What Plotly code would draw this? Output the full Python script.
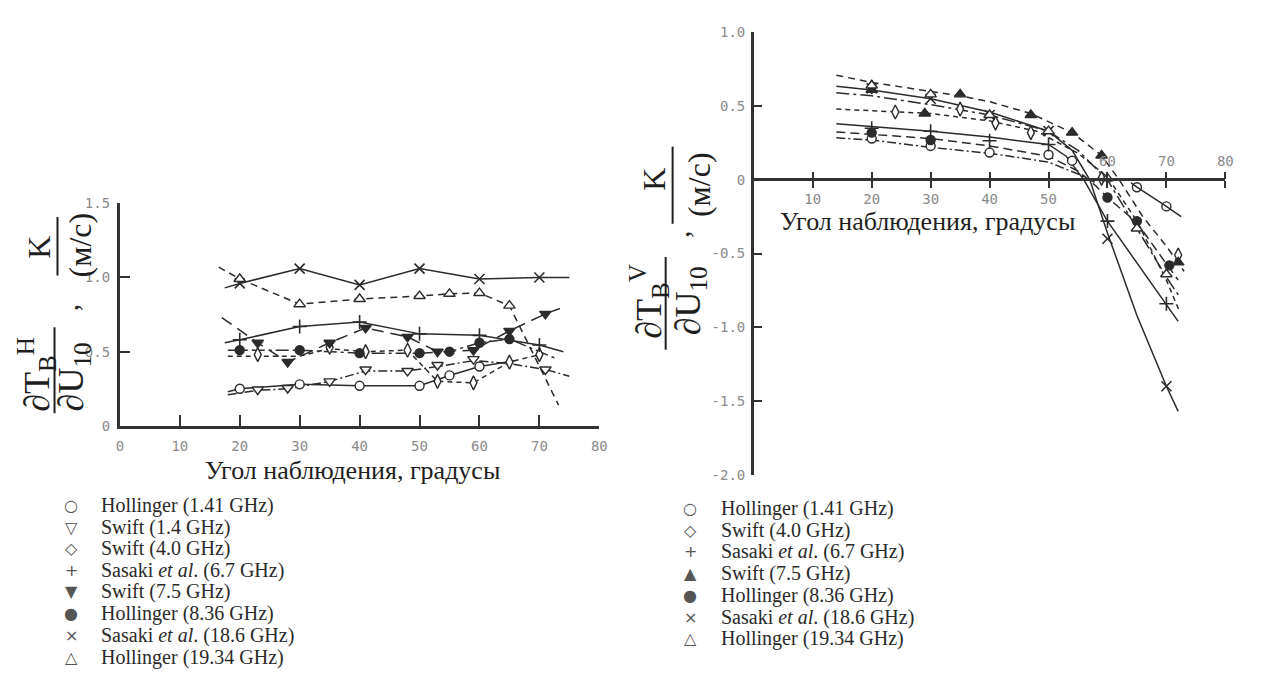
import plotly.graph_objects as go

W, H = 1268, 677

# ================= LEFT PANEL: horizontal polarisation =================
# Hollinger 1.41 GHz (open circle)
h_hol141_x = [20, 30, 40, 50, 55, 60]
h_hol141_y = [0.25, 0.28, 0.27, 0.27, 0.34, 0.40]
h_hol141_lx = [18, 20, 30, 40, 50, 55, 60, 66]
h_hol141_ly = [0.23, 0.25, 0.28, 0.27, 0.27, 0.34, 0.40, 0.44]
# Swift 1.4 GHz (open down-triangle)
h_sw14_x = [23, 28, 35, 41, 48, 53, 59, 71]
h_sw14_y = [0.245, 0.255, 0.30, 0.38, 0.37, 0.41, 0.45, 0.38]
h_sw14_lx = [18, 23, 28, 35, 41, 48, 53, 59, 65, 71, 75]
h_sw14_ly = [0.21, 0.24, 0.25, 0.30, 0.37, 0.37, 0.40, 0.44, 0.42, 0.38, 0.335]
# Swift 4.0 GHz (open diamond)
h_sw40_x = [23, 35, 41, 48, 53, 59, 65, 70]
h_sw40_y = [0.48, 0.53, 0.50, 0.51, 0.30, 0.29, 0.43, 0.48]
h_sw40_lx = [18, 23, 30, 35, 41, 48, 53, 59, 65, 70]
h_sw40_ly = [0.47, 0.47, 0.47, 0.52, 0.50, 0.51, 0.30, 0.29, 0.43, 0.48]
# Sasaki 6.7 GHz (+)
h_sa67_x = [20, 30, 40, 50, 60, 70]
h_sa67_y = [0.58, 0.67, 0.70, 0.62, 0.61, 0.545]
h_sa67_lx = [17.5, 20, 30, 40, 50, 60, 70, 74]
h_sa67_ly = [0.56, 0.58, 0.67, 0.70, 0.62, 0.61, 0.545, 0.50]
# Swift 7.5 GHz (filled down-triangle)
h_sw75_x = [23, 28, 35, 41, 48, 53, 59, 65, 71]
h_sw75_y = [0.56, 0.43, 0.56, 0.66, 0.60, 0.50, 0.51, 0.64, 0.755]
h_sw75_lx = [17, 23, 28, 35, 41, 48, 53, 59, 65, 71, 74]
h_sw75_ly = [0.73, 0.56, 0.43, 0.56, 0.66, 0.60, 0.50, 0.51, 0.64, 0.755, 0.80]
# Hollinger 8.36 GHz (filled circle)
h_hol836_x = [20, 30, 40, 50, 55, 60, 65]
h_hol836_y = [0.51, 0.51, 0.49, 0.49, 0.50, 0.56, 0.585]
h_hol836_lx = [18, 20, 30, 40, 50, 55, 60, 65, 73]
h_hol836_ly = [0.51, 0.51, 0.51, 0.49, 0.49, 0.50, 0.56, 0.585, 0.45]
# Sasaki 18.6 GHz (x)
h_sa186_x = [20, 30, 40, 50, 60, 70]
h_sa186_y = [0.96, 1.06, 0.95, 1.06, 0.99, 1.00]
h_sa186_lx = [17.5, 20, 30, 40, 50, 60, 70, 75]
h_sa186_ly = [0.93, 0.96, 1.06, 0.95, 1.06, 0.99, 1.00, 1.00]
# Hollinger 19.34 GHz (open triangle)
h_hol1934_x = [20, 30, 40, 50, 55, 60, 65]
h_hol1934_y = [0.99, 0.82, 0.855, 0.875, 0.89, 0.895, 0.81]
h_hol1934_lx = [16.5, 20, 30, 40, 50, 55, 60, 65, 73.2]
h_hol1934_ly = [1.07, 0.99, 0.82, 0.855, 0.875, 0.89, 0.895, 0.81, 0.14]

# ================= RIGHT PANEL: vertical polarisation =================
v_hol141_x = [20, 30, 40, 50, 54, 65, 70]
v_hol141_y = [0.28, 0.23, 0.185, 0.17, 0.13, -0.05, -0.18]
v_hol141_lx = [14, 20, 30, 40, 46, 50, 55, 58]
v_hol141_ly = [0.285, 0.27, 0.22, 0.18, 0.145, 0.12, 0.04, -0.02]
v_hol141_tx = [64, 65, 70, 72.5]
v_hol141_ty = [-0.02, -0.05, -0.18, -0.25]

v_sw40_x = [20, 24, 35, 41, 47, 59, 72]
v_sw40_y = [0.63, 0.46, 0.48, 0.385, 0.32, 0.01, -0.51]
v_sw40_lx = [14, 20, 30, 40, 48, 55, 60, 65, 70, 72.3]
v_sw40_ly = [0.48, 0.47, 0.45, 0.40, 0.33, 0.18, 0.02, -0.28, -0.68, -0.90]

v_sa67_x = [20, 30, 40, 50, 60, 70]
v_sa67_y = [0.35, 0.33, 0.265, 0.24, -0.28, -0.84]
v_sa67_lx = [14, 20, 30, 40, 50, 53, 56, 60, 65, 70, 72]
v_sa67_ly = [0.38, 0.36, 0.33, 0.29, 0.24, 0.16, 0.0, -0.28, -0.56, -0.84, -0.96]

v_sw75_x = [20, 29, 35, 47, 54, 59, 72]
v_sw75_y = [0.61, 0.45, 0.58, 0.44, 0.32, 0.165, -0.56]
v_sw75_lx = [14, 20, 30, 35, 40, 47, 54, 59, 62, 66, 70, 73]
v_sw75_ly = [0.71, 0.66, 0.60, 0.57, 0.53, 0.45, 0.32, 0.165, 0.0, -0.25, -0.45, -0.62]

v_hol836_x = [20, 30, 60, 65, 70.5]
v_hol836_y = [0.32, 0.27, -0.12, -0.28, -0.58]
v_hol836_lx = [14, 20, 30, 40, 50, 55, 58, 60, 65, 70, 72]
v_hol836_ly = [0.325, 0.31, 0.28, 0.23, 0.16, 0.06, -0.04, -0.12, -0.29, -0.57, -0.68]

v_sa186_x = [20, 30, 40, 50, 60, 70]
v_sa186_y = [0.62, 0.55, 0.44, 0.33, -0.40, -1.40]
v_sa186_lx = [14, 20, 30, 40, 50, 54, 57, 60, 65, 70, 72]
v_sa186_ly = [0.635, 0.61, 0.55, 0.46, 0.33, 0.20, 0.0, -0.36, -0.92, -1.40, -1.57]

v_hol1934_x = [20, 30, 40, 50, 60, 65, 70]
v_hol1934_y = [0.64, 0.58, 0.44, 0.33, 0.01, -0.33, -0.64]
v_hol1934_lx = [14, 20, 30, 40, 50, 55, 60, 65, 70, 72]
v_hol1934_ly = [0.59, 0.57, 0.51, 0.44, 0.33, 0.20, 0.0, -0.33, -0.66, -0.78]

# axis ticks
left_xticks = [0, 10, 20, 30, 40, 50, 60, 70, 80]
left_yticks = [0, 0.5, 1.0, 1.5]
left_ytext = ["0", "0.5", "1.0", "1.5"]
right_xticks_below = [10, 20, 30, 40, 50]
right_xticks_above = [60, 70, 80]
right_yticks = [-2.0, -1.5, -1.0, -0.5, 0, 0.5, 1.0]
right_ytext = ["-2.0", "-1.5", "-1.0", "-0.5", "0", "0.5", "1.0"]

left_legend_names = ["Hollinger (1.41 GHz)", "Swift (1.4 GHz)", "Swift (4.0 GHz)",
                     "Sasaki <i>et al</i>. (6.7 GHz)", "Swift (7.5 GHz)",
                     "Hollinger (8.36 GHz)", "Sasaki <i>et al</i>. (18.6 GHz)",
                     "Hollinger (19.34 GHz)"]
left_legend_glyphs = ["○", "▽", "◇", "+", "▼", "●", "×", "△"]
right_legend_names = ["Hollinger (1.41 GHz)", "Swift (4.0 GHz)",
                      "Sasaki <i>et al</i>. (6.7 GHz)", "Swift (7.5 GHz)",
                      "Hollinger (8.36 GHz)", "Sasaki <i>et al</i>. (18.6 GHz)",
                      "Hollinger (19.34 GHz)"]
right_legend_glyphs = ["○", "◇", "+", "▲", "●", "×", "△"]

INK = "#2b2b2b"
SOLID = "solid"
SHORTDASH = "5px,4px"
DASH = "7px,5px"
LONGDASH = "12px,7px"
DASHDOT = "9px,3px,2px,3px"
LONGDASHDOT = "13px,4px,3px,4px"

def mk(symbol, filled):
    if symbol in ("cross-thin", "x-thin"):
        return dict(symbol=symbol, size=10, color=INK, line=dict(color=INK, width=1.6))
    return dict(symbol=symbol, size=9 if "circle" in symbol else 10,
                color=INK if filled else "white", line=dict(color=INK, width=1.4))

left_series = [
    ("Hollinger (1.41 GHz)", h_hol141_x, h_hol141_y, h_hol141_lx, h_hol141_ly, "circle", False, SOLID),
    ("Swift (1.4 GHz)", h_sw14_x, h_sw14_y, h_sw14_lx, h_sw14_ly, "triangle-down", False, DASHDOT),
    ("Swift (4.0 GHz)", h_sw40_x, h_sw40_y, h_sw40_lx, h_sw40_ly, "diamond-tall", False, SHORTDASH),
    ("Sasaki et al. (6.7 GHz)", h_sa67_x, h_sa67_y, h_sa67_lx, h_sa67_ly, "cross-thin", True, SOLID),
    ("Swift (7.5 GHz)", h_sw75_x, h_sw75_y, h_sw75_lx, h_sw75_ly, "triangle-down", True, LONGDASH),
    ("Hollinger (8.36 GHz)", h_hol836_x, h_hol836_y, h_hol836_lx, h_hol836_ly, "circle", True, LONGDASHDOT),
    ("Sasaki et al. (18.6 GHz)", h_sa186_x, h_sa186_y, h_sa186_lx, h_sa186_ly, "x-thin", True, SOLID),
    ("Hollinger (19.34 GHz)", h_hol1934_x, h_hol1934_y, h_hol1934_lx, h_hol1934_ly, "triangle-up", False, DASH),
]
right_series = [
    ("Hollinger (1.41 GHz)", v_hol141_x, v_hol141_y, v_hol141_lx, v_hol141_ly, "circle", False, DASHDOT),
    ("Swift (4.0 GHz)", v_sw40_x, v_sw40_y, v_sw40_lx, v_sw40_ly, "diamond-tall", False, SHORTDASH),
    ("Sasaki et al. (6.7 GHz)", v_sa67_x, v_sa67_y, v_sa67_lx, v_sa67_ly, "cross-thin", True, SOLID),
    ("Swift (7.5 GHz)", v_sw75_x, v_sw75_y, v_sw75_lx, v_sw75_ly, "triangle-up", True, DASH),
    ("Hollinger (8.36 GHz)", v_hol836_x, v_hol836_y, v_hol836_lx, v_hol836_ly, "circle", True, "9px,5px"),
    ("Sasaki et al. (18.6 GHz)", v_sa186_x, v_sa186_y, v_sa186_lx, v_sa186_ly, "x-thin", True, SOLID),
    ("Hollinger (19.34 GHz)", v_hol1934_x, v_hol1934_y, v_hol1934_lx, v_hol1934_ly, "triangle-up", False, LONGDASHDOT),
]

fig = go.Figure()

def add_series(series, xa, ya):
    for name, x, y, lx, ly, sym, filled, dash in series:
        fig.add_trace(go.Scatter(x=lx, y=ly, mode="lines", xaxis=xa, yaxis=ya,
                                 line=dict(color=INK, width=1.5, dash=dash),
                                 showlegend=False, hoverinfo="skip"))
    for name, x, y, lx, ly, sym, filled, dash in series:
        fig.add_trace(go.Scatter(x=x, y=y, mode="markers", name=name, xaxis=xa, yaxis=ya,
                                 marker=mk(sym, filled), showlegend=False, cliponaxis=False))

add_series(left_series, "x", "y")
add_series(right_series, "x2", "y2")
# solid tail of the Hollinger 1.41 GHz curve (vertical polarisation)
fig.add_trace(go.Scatter(x=v_hol141_tx, y=v_hol141_ty, mode="lines", xaxis="x2", yaxis="y2",
                         line=dict(color=INK, width=1.5), showlegend=False, hoverinfo="skip"))
# carrier trace so the upper tick axis of the right panel is drawn
fig.add_trace(go.Scatter(x=v_hol141_x, y=v_hol141_y, mode="markers", xaxis="x3", yaxis="y2",
                         marker=dict(opacity=0), showlegend=False, hoverinfo="skip"))

def px(x):
    return x / W

def py(y):
    return 1 - y / H

TICKFONT = dict(family="DejaVu Sans Mono", size=14, color="#8a8a8a")
AX = "#333333"

fig.update_layout(
    width=W, height=H, margin=dict(l=0, r=0, t=0, b=0),
    paper_bgcolor="white", plot_bgcolor="rgba(0,0,0,0)",
    showlegend=False,
    xaxis=dict(domain=[px(117), px(601)], range=[0, 80], anchor="y",
               tickvals=left_xticks, ticks="inside", ticklen=11, tickwidth=2.2,
               tickcolor=AX, showline=True, linewidth=3, linecolor=AX,
               showgrid=False, zeroline=False, tickfont=TICKFONT, ticklabelstandoff=5),
    yaxis=dict(domain=[py(428), py(200)], range=[0, 1.5], anchor="x",
               tickvals=left_yticks, ticktext=left_ytext, ticks="inside", ticklen=10,
               tickwidth=2.2, tickcolor=AX, showline=True, linewidth=3, linecolor=AX,
               showgrid=False, zeroline=False, tickfont=TICKFONT, ticklabelstandoff=4),
    xaxis2=dict(domain=[px(757), px(1233)], range=[0, 80], anchor="free",
                position=py(175), tickvals=right_xticks_below,
                ticks="outside", ticklen=7, tickwidth=2.2, tickcolor=AX,
                minor=dict(tickmode="array", tickvals=right_xticks_above, ticks="outside",
                           ticklen=7, tickwidth=2.2, tickcolor=AX, showgrid=False),
                showline=True, linewidth=2.5, linecolor=AX, showgrid=False,
                zeroline=False, tickfont=TICKFONT),
    xaxis3=dict(overlaying="x2", range=[0, 80], anchor="free", position=py(175),
                side="top", tickvals=right_xticks_above,
                ticks="outside", ticklen=7, tickwidth=2.2, tickcolor=AX,
                minor=dict(tickmode="array", tickvals=right_xticks_below, ticks="outside",
                           ticklen=7, tickwidth=2.2, tickcolor=AX, showgrid=False),
                showline=False, showgrid=False, zeroline=False, tickfont=TICKFONT),
    yaxis2=dict(domain=[py(478), py(25)], range=[-2, 1], anchor="x2",
                tickvals=right_yticks, ticktext=right_ytext, ticks="inside", ticklen=8,
                tickwidth=2.2, tickcolor=AX, showline=True, linewidth=2.5, linecolor=AX,
                showgrid=False, zeroline=False, tickfont=TICKFONT, ticklabelstandoff=3),
)

SERIF = "Liberation Serif"
ann = []

def text(x, y, t, size, angle=0, xanchor="center", family=SERIF, color="#1e1e1e"):
    ann.append(dict(x=px(x), y=py(y), xref="paper", yref="paper", text=t, showarrow=False,
                    textangle=angle, xanchor=xanchor, yanchor="middle",
                    font=dict(family=family, size=size, color=color)))

# x-axis titles
text(352, 474, "Угол наблюдения, градусы", 26)
text(932, 219, "Угол наблюдения, градусы", 26)

# y-axis titles (rotated fractions)
text(33, 375, "∂T<sub>B</sub><sup>H</sup>", 36, -90)
text(70, 378, "∂U<sub>10</sub>", 36, -90)
text(64, 306, ",", 30, -90)
text(36, 245, "K", 32, -90)
text(77, 243, "(м/с)", 32, -90)

text(651, 300, "∂T<sub>B</sub><sup>V</sup>", 36, -90)
text(693, 300, "∂U<sub>10</sub>", 36, -90)
text(681, 232, ",", 30, -90)
text(656, 175, "K", 32, -90)
text(701, 181, "(м/с)", 32, -90)

shapes = [
    dict(type="line", xref="paper", yref="paper", x0=px(51), x1=px(51), y0=py(327), y1=py(415),
         line=dict(color="#1e1e1e", width=2)),
    dict(type="line", xref="paper", yref="paper", x0=px(54), x1=px(54), y0=py(214), y1=py(274),
         line=dict(color="#1e1e1e", width=2)),
    dict(type="line", xref="paper", yref="paper", x0=px(668), x1=px(668), y0=py(255), y1=py(350),
         line=dict(color="#1e1e1e", width=2)),
    dict(type="line", xref="paper", yref="paper", x0=px(675), x1=px(675), y0=py(142), y1=py(221),
         line=dict(color="#1e1e1e", width=2)),
]

# legends
left_rows = [510, 532, 554, 576, 598, 620, 643, 665]
for row, g, n in zip(left_rows, left_legend_glyphs, left_legend_names):
    text(68, row, g, 16, family="DejaVu Sans", color="#555555")
    text(96, row, n, 20, xanchor="left", color="#2a2a2a")
right_rows = [513, 535, 557, 579, 602, 624, 646]
for row, g, n in zip(right_rows, right_legend_glyphs, right_legend_names):
    text(693, row, g, 16, family="DejaVu Sans", color="#555555")
    text(722, row, n, 20, xanchor="left", color="#2a2a2a")

fig.update_layout(annotations=ann, shapes=shapes)
fig.write_html("out.html")
